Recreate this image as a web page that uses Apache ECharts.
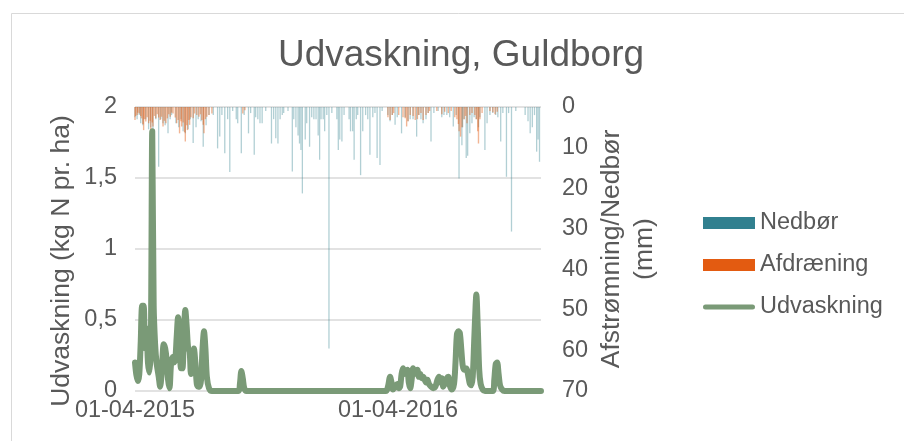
<!DOCTYPE html>
<html>
<head>
<meta charset="utf-8">
<script src="https://cdn.jsdelivr.net/npm/echarts@6/dist/echarts.min.js"></script>
<style>html,body{margin:0;padding:0;background:#fff}#c{width:904px;height:441px}</style>
</head>
<body>
<div id="c"></div>
<script>
// Day offsets are counted from 01-04-2015
const lastDay = 565;
const xTickLabels = ['01-04-2015', '01-04-2016'];
const xTickDays = [0, 366];

// Nedbør (mm) : [day, mm]
const nedbor = [
  [0,2.5],[3,3],[6,2],[8,4],[11,4.5],[15,3],[19,5.5],[22,5],[25,5.8],[29,3],[33,14.7],[36,3],[39,4],[42,4.5],
  [46,6.5],[49,3],[51,2],[57,4],[61,5],[64,3],[67,6],[70,6.5],[74,5.5],[77,3],[81,8.9],[85,5],[88,3],[92,3.5],
  [95,9.8],[99,4.5],[103,2],[109,2],[115,10.2],[118,7.3],[121,2],[125,11.4],[129,3],[132,16],[136,1],[141,3],
  [143,4],[148,11.4],[152,2],[158,6.5],[161,1.5],[166,11.8],[168,2.5],[171,3],[174,4],[177,4],[182,1],[190,9],
  [193,3],[196,7.7],[199,9],[202,3],[205,2],[207,1.5],[213,1],[219,15.9],[221,3],[224,5],[227,7],[229,9],
  [231,10.6],[233,21.3],[237,8],[239,4],[243,9.8],[246,2.5],[249,3],[252,3],[255,7],[257,13],[259,3],[262,3],
  [264,6],[267,2],[270,59.5],[274,1.5],[281,3],[283,10.6],[285,8],[288,8.5],[291,2],[298,3],[300,6],[303,6],
  [305,13],[308,3],[310,2],[314,16.8],[317,6],[321,2],[324,3],[327,11.8],[331,2.5],[334,1.5],[337,12.6],
  [341,14.3],[344,1],[352,2],[355,3.5],[358,2],[362,4.4],[365,2.5],[371,6.5],[376,2.5],[380,3.5],[383,3],
  [387,3],[392,7.3],[395,2],[398,3],[401,4],[405,3],[408,1.5],[412,8.5],[416,1.5],[422,1],[427,2.5],[430,2],
  [434,2],[438,2.5],[443,4.8],[447,2],[451,17.6],[455,9.4],[456,5],[458,3],[461,12.6],[463,12],[466,6.5],
  [469,4],[472,2.5],[475,3],[478,5],[480,2.5],[487,10.6],[490,4],[494,2],[498,1.5],[502,2],[505,2.5],[509,8.5],
  [512,1.5],[517,17.2],[520,1.5],[524,30.7],[530,1],[543,2],[547,3.5],[550,6.5],[553,5],[556,2],[559,11],
  [561,8],[563,13.5]
];

// Afdræning (mm) : [day, mm]
const afdraening = [
  [0,3.2],[1,2.2],[3,2],[4,1.4],[6,1.6],[8,2.2],[9,2.8],[11,4.2],[12,5.7],[13,3],[15,3.6],[17,2.5],[19,4],
  [21,3.4],[22,6.1],[24,3.8],[25,4.8],[27,2.2],[29,2.8],[31,1.8],[33,2.6],[35,3.2],[37,2.4],[39,4.8],[41,3.4],
  [43,4],[45,2.8],[47,1.8],[49,2.4],[51,1.4],[53,1.6],[56,2.6],[58,4],[60,3.2],[62,6.5],[64,3.5],[65,4.8],
  [67,3.8],[69,6.2],[70,8.5],[72,4.5],[73,5.7],[75,3.2],[76,4.4],[78,2.5],[81,2.8],[83,1.6],[86,2],[89,2.4],
  [91,1.8],[93,3.2],[95,4.4],[96,6.5],[98,3],[100,2.4],[103,2],[107,1.6],[150,1.6],[153,0.8],
  [352,2.5],[355,3.2],[358,2],[360,1.5],[367,2],[373,2.5],[376,2.8],[378,4.8],[380,3.5],[383,2],[387,2.2],
  [390,3.2],[393,3],[395,2],[398,1.5],[401,3.2],[405,2],[408,1.5],[410,1],[420,1],[427,1.8],[431,1.2],
  [436,1.5],[440,1],[445,2.5],[448,3],[450,4.2],[451,6],[453,7.3],[455,5],[458,3],[460,2.2],[462,4],[466,2],
  [469,1.5],[473,2],[475,3],[477,6],[478,9],[480,3],[483,1.5],[494,1],[498,1.3],[501,1.8],[504,1.2]
];

// Udvaskning (kg N pr. ha) : [day, value]
const udvaskning = [
  [0,0.2],[2,0.11],[4,0.07],[6,0.12],[8,0.35],[10,0.6],[12,0.6],[14,0.3],[16,0.44],[18,0.2],[20,0.13],
  [22,0.3],[24,1.83],[26,0.6],[28,0.33],[30,0.2],[33,0.1],[35,0.03],[37,0.12],[40,0.33],[42,0.3],[44,0.22],
  [46,0.08],[48,0.02],[50,0.18],[52,0.24],[54,0.2],[56,0.22],[58,0.38],[60,0.52],[62,0.4],[64,0.16],
  [66,0.16],[68,0.4],[70,0.57],[72,0.45],[74,0.3],[76,0.28],[78,0.12],[80,0.15],[82,0.3],[84,0.2],[86,0.05],
  [88,0.03],[90,0.03],[92,0.08],[94,0.3],[96,0.42],[98,0.3],[100,0.1],[103,0.02],[107,0],[144,0],[146,0.05],
  [148,0.14],[150,0.09],[152,0.02],[155,0],[349,0],[352,0.03],[355,0.1],[357,0.06],[359,0.01],[362,0.03],
  [365,0.05],[367,0.02],[369,0.03],[371,0.12],[373,0.16],[375,0.12],[377,0.14],[379,0.15],[381,0.06],
  [383,0.02],[385,0.08],[387,0.16],[389,0.13],[391,0.12],[393,0.15],[395,0.1],[397,0.12],[399,0.09],
  [401,0.1],[403,0.08],[405,0.06],[407,0.08],[409,0.05],[412,0.03],[415,0.02],[418,0.03],[421,0.08],
  [423,0.1],[425,0.06],[427,0.09],[429,0.03],[432,0.06],[434,0.09],[436,0.1],[438,0.04],[441,0.01],
  [444,0.05],[446,0.2],[448,0.4],[450,0.42],[452,0.41],[454,0.3],[456,0.18],[458,0.15],[460,0.16],
  [462,0.15],[464,0.1],[466,0.05],[468,0.04],[470,0.1],[472,0.35],[474,0.6],[475,0.68],[477,0.45],
  [479,0.15],[481,0.05],[484,0.01],[487,0],[498,0],[500,0.08],[502,0.19],[504,0.2],[506,0.12],[508,0.04],
  [511,0.01],[514,0],[565,0]
];

const leftTicks = [0, 0.5, 1, 1.5, 2];
const rightTicks = [0, 10, 20, 30, 40, 50, 60, 70];

const txt = '#595959';
const green = '#7A9A77';
const font = 'Liberation Sans, Arial, sans-serif';
const chart = echarts.init(document.getElementById('c'), null, {renderer: 'canvas'});
chart.setOption({
  backgroundColor: '#fff',
  animation: false,
  textStyle: {fontFamily: font},
  graphic: [{type: 'rect', left: 9, top: 11, shape: {width: 1000, height: 1000},
    style: {fill: 'none', stroke: '#d9d9d9', lineWidth: 1}, silent: true}],
  title: {text: 'Udvaskning, Guldborg', left: 456, top: 32, textAlign: 'center',
    textStyle: {fontSize: 37, fontWeight: 'normal', color: txt, fontFamily: font}},
  legend: {orient: 'vertical', left: 698, top: 206, itemWidth: 52, itemHeight: 12, itemGap: 18,
    textStyle: {fontSize: 23.5, color: txt, fontFamily: font},
    data: [
      {name: 'Nedbør', icon: 'rect', itemStyle: {color: '#31808F', opacity: 1}},
      {name: 'Afdræning', icon: 'rect', itemStyle: {color: '#E35B11', opacity: 1}},
      {name: 'Udvaskning',
       icon: 'path://M0,0L0.05,0L0.05,0.05Z M2.5,3.5L49.5,3.5A2.5,2.5 0 0 1 49.5,8.5L2.5,8.5A2.5,2.5 0 0 1 2.5,3.5Z M51.95,11.95L52,11.95L52,12Z',
       itemStyle: {color: green, opacity: 1}}
    ]},
  grid: {left: 135, right: 363, top: 107, bottom: 50},
  xAxis: {type: 'value', min: 0, max: lastDay, interval: xTickDays[1] - xTickDays[0],
    axisLine: {show: false}, axisTick: {show: false}, splitLine: {show: false},
    axisLabel: {fontSize: 23.5, color: txt, margin: 8, showMaxLabel: false,
      formatter: v => { const i = xTickDays.indexOf(v); return i >= 0 ? xTickLabels[i] : ''; }}},
  yAxis: [
    {type: 'value', min: leftTicks[0], max: leftTicks[leftTicks.length-1], interval: 0.5,
     name: 'Udvaskning (kg N pr. ha)', nameLocation: 'middle', nameGap: 60,
     nameTextStyle: {fontSize: 26.5, color: txt, fontFamily: font, padding: [0, 24, 0, 0]},
     axisLine: {show: false}, axisTick: {show: false},
     splitLine: {lineStyle: {color: '#d9d9d9', width: 1.5}},
     axisLabel: {fontSize: 23.5, color: txt, margin: 18, formatter: v => String(v).replace('.', ',')}},
    {type: 'value', min: rightTicks[0], max: rightTicks[rightTicks.length-1], interval: 10, inverse: true,
     position: 'right', name: 'Afstrømning/Nedbør\n(mm)', nameLocation: 'middle', nameGap: 54, nameRotate: 90,
     nameTextStyle: {fontSize: 26.5, color: txt, fontFamily: font, lineHeight: 33},
     axisLine: {show: false}, axisTick: {show: false}, splitLine: {show: false},
     axisLabel: {fontSize: 23.5, color: txt, margin: 21}}
  ],
  series: [
    {name: 'Nedbør', type: 'bar', yAxisIndex: 1, data: nedbor, barWidth: 1.3, barGap: '-100%',
     itemStyle: {color: '#31808F', opacity: 0.38}},
    {name: 'Afdræning', type: 'bar', yAxisIndex: 1, data: afdraening, barWidth: 1.4, barGap: '-100%',
     itemStyle: {color: '#E35B11', opacity: 0.45}},
    {name: 'Udvaskning', type: 'line', yAxisIndex: 0, data: udvaskning, symbol: 'none', smooth: 0.3,
     lineStyle: {color: green, width: 6, cap: 'round', join: 'round'}, itemStyle: {color: green}}
  ]
});
</script>
</body>
</html>
